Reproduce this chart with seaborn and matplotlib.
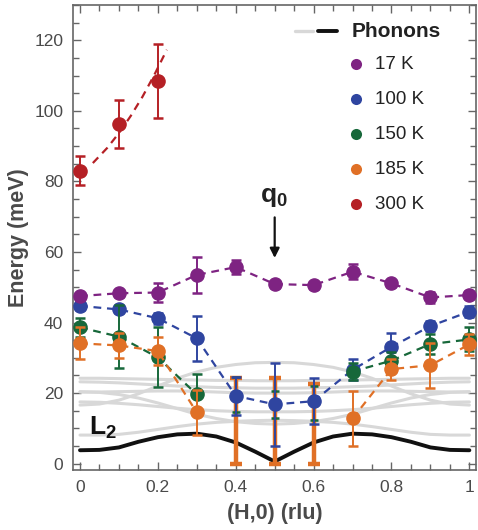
import numpy as np
import pandas as pd
import matplotlib.pyplot as plt
from matplotlib.ticker import MultipleLocator, FuncFormatter
import seaborn as sns

# ── Data ───────────────────────────────────────────────
h = [0.0, 0.1, 0.2, 0.3, 0.4, 0.5, 0.6, 0.7, 0.8, 0.9, 1.0]

e_17 = [47.5, 48.3, 48.5, 53.5, 55.7, 50.9, 50.6, 54.4, 51.1, 47.1, 47.8]
err_17 = [1.0, 1.0, 2.7, 5.1, 2.0, 1.0, 1.0, 2.2, 1.0, 1.5, 1.0]

e_100 = [44.7, 43.7, 41.2, 35.5, 19.2, 16.8, 17.7, 26.6, 33.1, 39.0, 43.1]
err_100 = [1.2, 1.0, 1.5, 6.4, 5.4, 11.8, 6.6, 3.0, 3.8, 1.5, 1.5]

e_150 = [38.6, 36.0, 30.1, 19.6, np.nan, np.nan, np.nan, 26.1, 29.2, 33.9, 35.2]
err_150 = [2.6, 9.0, 8.5, 5.8, np.nan, np.nan, np.nan, 2.5, 2.5, 2.8, 3.4]

e_185 = [34.1, 33.5, 31.9, 14.5, np.nan, np.nan, np.nan, 12.8, 26.8, 27.9, 33.8]
err_185 = [4.5, 3.5, 4.0, 6.4, np.nan, np.nan, np.nan, 7.8, 3.0, 6.4, 3.0]

# points near q0 with only an energy range
h_gap = [0.4, 0.5, 0.6]
lo_150 = [14.5, 12.8, 12.5]
hi_150 = [24.5, 20.5, 22.0]
lo_185 = [0.0, 0.0, 0.0]
hi_185 = [24.2, 24.2, 22.5]

h_300 = [0.0, 0.1, 0.2]
e_300 = [83.0, 96.3, 108.5]
err_300 = [4.1, 6.8, 10.5]
h_fit300 = [0.033, 0.07, 0.10, 0.13, 0.16, 0.19, 0.223]
e_fit300 = [85.2, 89.5, 93.7, 98.5, 103.9, 110.0, 117.3]

# phonon branches
h_ph = [0.0, 0.05, 0.1, 0.15, 0.2, 0.25, 0.3, 0.35, 0.4, 0.45, 0.5,
        0.55, 0.6, 0.65, 0.7, 0.75, 0.8, 0.85, 0.9, 0.95, 1.0]
ph_a = [16.6, 16.9, 18.0, 19.8, 22.0, 24.2, 26.0, 27.3, 28.1, 28.6, 28.7,
        28.6, 28.1, 27.3, 26.0, 24.2, 22.0, 19.8, 18.0, 16.9, 16.6]
ph_b = [24.2, 24.2, 24.1, 24.0, 23.9, 23.8, 23.7, 23.6, 23.6, 23.5, 23.5,
        23.5, 23.6, 23.6, 23.7, 23.8, 23.9, 24.0, 24.1, 24.2, 24.2]
ph_c = [23.2, 23.1, 22.9, 22.6, 22.3, 22.0, 21.8, 21.6, 21.5, 21.4, 21.4,
        21.4, 21.5, 21.6, 21.8, 22.0, 22.3, 22.6, 22.9, 23.1, 23.2]
ph_d = [20.3, 20.3, 20.4, 20.5, 20.6, 20.6, 20.5, 20.3, 20.1, 20.0, 20.0,
        20.0, 20.1, 20.3, 20.5, 20.6, 20.6, 20.5, 20.4, 20.3, 20.3]
ph_e = [17.5, 17.4, 17.1, 16.7, 16.2, 15.7, 15.3, 15.0, 14.8, 14.7, 14.7,
        14.7, 14.8, 15.0, 15.3, 15.7, 16.2, 16.7, 17.1, 17.4, 17.5]
ph_f = [20.4, 20.2, 19.6, 18.6, 17.2, 15.6, 14.0, 12.8, 11.9, 11.4, 11.2,
        11.4, 11.9, 12.8, 14.0, 15.6, 17.2, 18.6, 19.6, 20.2, 20.4]
ph_g = [8.1, 8.1, 8.3, 8.9, 9.7, 10.5, 11.2, 11.7, 12.0, 12.2, 12.3,
        12.2, 12.0, 11.7, 11.2, 10.5, 9.7, 8.9, 8.3, 8.1, 8.1]
ph_l2 = [3.8, 3.9, 4.6, 6.2, 7.5, 8.3, 8.5, 7.7, 6.0, 3.4, 0.6,
         3.4, 6.0, 7.7, 8.5, 8.3, 7.5, 6.2, 4.6, 3.9, 3.8]

COLORS = {"17 K": "#7e2382", "100 K": "#2f45a0", "150 K": "#17683a",
          "185 K": "#e07026", "300 K": "#b52025"}
GRAY = "#d8d8d8"
TXT = "#4a4a4a"

sns.set_theme(style="ticks")
plt.rcParams["font.family"] = ["Liberation Sans", "DejaVu Sans"]
plt.rcParams["mathtext.fontset"] = "custom"
plt.rcParams["mathtext.bf"] = "Liberation Sans:bold"
plt.rcParams["mathtext.rm"] = "Liberation Sans"

fig = plt.figure(figsize=(4.78, 5.30), dpi=100)
ax = fig.add_axes([0.1527, 0.1132, 0.8431, 0.8774])

# ── Phonons ───────────────────────────────────────────
branches = [ph_a, ph_b, ph_c, ph_d, ph_e, ph_f, ph_g]
ph_df = pd.DataFrame({
    "h": h_ph * len(branches),
    "E": sum(branches, []),
    "branch": np.repeat(np.arange(len(branches)), len(h_ph)),
})
sns.lineplot(data=ph_df, x="h", y="E", units="branch", estimator=None,
             color=GRAY, lw=2.2, ax=ax, zorder=1)
sns.lineplot(x=h_ph, y=ph_l2, color="#111111", lw=2.8, ax=ax, zorder=2)

# ── Range-only bars near q0 ───────────────────────────
mid = [(a + b) / 2 for a, b in zip(lo_185, hi_185)]
ax.errorbar(h_gap, mid, yerr=[np.subtract(mid, lo_185), np.subtract(hi_185, mid)],
            fmt="none", ecolor=COLORS["185 K"], elinewidth=3.2, capsize=4.5,
            capthick=3.2, zorder=3)
mid = [(a + b) / 2 for a, b in zip(lo_150, hi_150)]
ax.errorbar(h_gap, mid, yerr=[np.subtract(mid, lo_150), np.subtract(hi_150, mid)],
            fmt="none", ecolor=COLORS["150 K"], elinewidth=1.4, capsize=3,
            capthick=1.8, zorder=3.5)

# ── Temperature series ────────────────────────────────
series = [("100 K", h, e_100, err_100, 4),
          ("150 K", h, e_150, err_150, 5),
          ("185 K", h, e_185, err_185, 6),
          ("17 K", h, e_17, err_17, 7),
          ("300 K", h_300, e_300, err_300, 7)]
for name, x, y, yerr, z in series:
    c = COLORS[name]
    if name != "300 K":
        ax.plot(x, y, color=c, lw=1.6, dashes=(3.5, 2.6), zorder=z)
    ax.errorbar(x, y, yerr=yerr, fmt="o", color=c, mec=c, ms=9.5,
                elinewidth=1.4, capsize=3.5, capthick=1.8, zorder=z)
ax.plot(h_fit300, e_fit300, color=COLORS["300 K"], lw=1.6, dashes=(3.5, 2.6), zorder=7)

# ── Annotations ───────────────────────────────────────
ax.annotate("", xy=(0.5, 58.3), xytext=(0.5, 69.8),
            arrowprops=dict(arrowstyle="-|>", color="#111111", lw=1.6,
                            mutation_scale=14, shrinkA=0, shrinkB=0))
ax.text(0.497, 75.5, r"$\mathbf{q_0}$", fontsize=19, ha="center", va="center", color="#222222")
ax.text(0.024, 8.3, r"$\mathbf{L_2}$", fontsize=19, ha="left", va="baseline", color="#111111")

# ── Legend (drawn by hand) ────────────────────────────
tr = ax.transAxes
ax.plot([0.551, 0.596], [0.944, 0.944], color=GRAY, lw=2.4, transform=tr)
ax.plot([0.608, 0.655], [0.944, 0.944], color="#111111", lw=2.8, transform=tr)
ax.text(0.692, 0.943, "Phonons", transform=tr, fontsize=15, fontweight="bold",
        va="center", ha="left", color="#222222")
for i, name in enumerate(["17 K", "100 K", "150 K", "185 K", "300 K"]):
    yy = 0.873 - i * 0.0753
    ax.plot([0.702], [yy], "o", color=COLORS[name], ms=8, mew=0, transform=tr)
    ax.text(0.749, yy, name, transform=tr, fontsize=13.5, va="center",
            ha="left", color="#222222")

# ── Axes styling ──────────────────────────────────────
ax.set_xlim(-0.018, 1.017)
ax.set_ylim(-1.8, 130)
ax.xaxis.set_major_locator(MultipleLocator(0.2))
ax.xaxis.set_minor_locator(MultipleLocator(0.05))
ax.yaxis.set_major_locator(MultipleLocator(20))
ax.yaxis.set_minor_locator(MultipleLocator(5))
ax.xaxis.set_major_formatter(FuncFormatter(lambda v, p: f"{v:.1f}".rstrip("0").rstrip(".") if v else "0"))
ax.tick_params(which="both", direction="in", top=True, right=True,
               colors="#666666", labelcolor=TXT, labelsize=12.5, width=1.0)
ax.tick_params(which="major", length=6, pad=7)
ax.tick_params(which="minor", length=4)
for s in ax.spines.values():
    s.set_color("#666666")
    s.set_linewidth(1.2)
ax.set_xlabel("(H,0) (rlu)", fontsize=15.5, fontweight="bold", color=TXT, labelpad=6)
ax.set_ylabel("Energy (meV)", fontsize=15.5, fontweight="bold", color=TXT, labelpad=4)

fig.savefig("out.png", dpi=100)
